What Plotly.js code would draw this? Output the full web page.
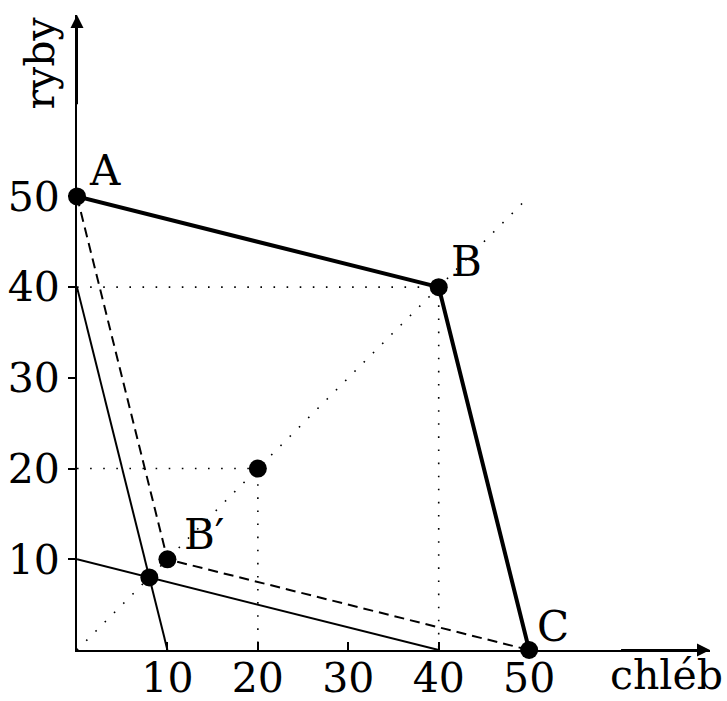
<!DOCTYPE html>
<html><head><meta charset="utf-8">
<script src="https://cdn.plot.ly/plotly-3.0.1.min.js"></script>
<style>html,body{margin:0;padding:0;background:#fff}#plot{width:727px;height:701px}</style>
</head><body><div id="plot"></div>
<script>
// Data
const frontierX = [0, 40, 50];
const frontierY = [50, 40, 0];
const dashedX = [0, 10, 50];
const dashedY = [50, 10, 0];
const lineFishX = [0, 10];
const lineFishY = [40, 0];
const lineBreadX = [0, 40];
const lineBreadY = [10, 0];
const diagX = [0, 50];
const diagY = [0, 50];
const guide40X = [0, 40, 40];
const guide40Y = [40, 40, 0];
const guide20X = [0, 20, 20];
const guide20Y = [20, 20, 0];
const pointsX = [0, 40, 50, 10, 20, 8];
const pointsY = [50, 40, 0, 10, 20, 8];
const labelNames = ['A', 'B', 'C', 'B′'];
const labelX = [0, 40, 50, 10];
const labelY = [50, 40, 0, 10];
const tickVals = [10, 20, 30, 40, 50];
const tickText = ['10', '20', '30', '40', '50'];

const FONT = "DejaVu Serif";
const FS = 41;
const dotStyle = {color: '#000', width: 1.6, dash: '1.6px,11.5px'};

const traces = [
  {x: diagX, y: diagY, mode: 'lines', line: dotStyle, cliponaxis: false},
  {x: guide40X, y: guide40Y, mode: 'lines', line: dotStyle, cliponaxis: false},
  {x: guide20X, y: guide20Y, mode: 'lines', line: dotStyle, cliponaxis: false},
  {x: lineFishX, y: lineFishY, mode: 'lines', line: {color: '#000', width: 2}, cliponaxis: false},
  {x: lineBreadX, y: lineBreadY, mode: 'lines', line: {color: '#000', width: 2}, cliponaxis: false},
  {x: dashedX, y: dashedY, mode: 'lines', line: {color: '#000', width: 2, dash: '10px,6px'}, cliponaxis: false},
  {x: frontierX, y: frontierY, mode: 'lines', line: {color: '#000', width: 4}, cliponaxis: false},
  {x: pointsX, y: pointsY, mode: 'markers', marker: {color: '#000', size: 18}, cliponaxis: false}
];

const shifts = [[28, 26], [28, 26], [24, 24], [37, 25]];
const annotations = labelNames.map((t, i) => ({
  x: labelX[i], y: labelY[i], xref: 'x', yref: 'y', text: t, showarrow: false,
  xshift: shifts[i][0], yshift: shifts[i][1], font: {family: FONT, size: 42, color: '#000'}
}));
annotations.push(
  {x: 70, y: 0, ax: 60, ay: 0, xref: 'x', yref: 'y', axref: 'x', ayref: 'y', text: '', showarrow: true,
   arrowhead: 2, arrowsize: 1.3, arrowwidth: 2, arrowcolor: '#000'},
  {x: 0, y: 70, ax: 0, ay: 60, xref: 'x', yref: 'y', axref: 'x', ayref: 'y', text: '', showarrow: true,
   arrowhead: 2, arrowsize: 1.3, arrowwidth: 2, arrowcolor: '#000'},
  {x: 1.0, y: 0, xref: 'paper', yref: 'paper', xanchor: 'right', yanchor: 'bottom', xshift: 15, yshift: -51,
   text: 'chléb', showarrow: false, font: {family: FONT, size: FS, color: '#000'}},
  {x: 0, y: 1.0, xref: 'paper', yref: 'paper', xanchor: 'center', yanchor: 'top', xshift: -38, yshift: 0,
   text: 'ryby', textangle: -90, showarrow: false, font: {family: FONT, size: FS, color: '#000'}}
);

const layout = {
  width: 727, height: 701,
  margin: {l: 77, r: 17, t: 15, b: 51},
  paper_bgcolor: '#fff', plot_bgcolor: '#fff',
  showlegend: false,
  xaxis: {range: [0, 70], showgrid: false, zeroline: false, showline: true, linecolor: '#000', linewidth: 2,
          tickvals: tickVals, ticktext: tickText, ticks: 'inside', ticklen: 8, tickwidth: 2, tickcolor: '#000',
          ticklabelstandoff: -9,
          tickfont: {family: FONT, size: FS, color: '#000'}, fixedrange: true},
  yaxis: {range: [0, 70], showgrid: false, zeroline: false, showline: true, linecolor: '#000', linewidth: 2,
          tickvals: tickVals, ticktext: tickText, ticks: 'outside', ticklen: 7, tickwidth: 2, tickcolor: '#000',
          tickfont: {family: FONT, size: FS, color: '#000'}, fixedrange: true},
  annotations: annotations
};

Plotly.newPlot('plot', traces, layout, {displayModeBar: false, staticPlot: true});
</script></body></html>
